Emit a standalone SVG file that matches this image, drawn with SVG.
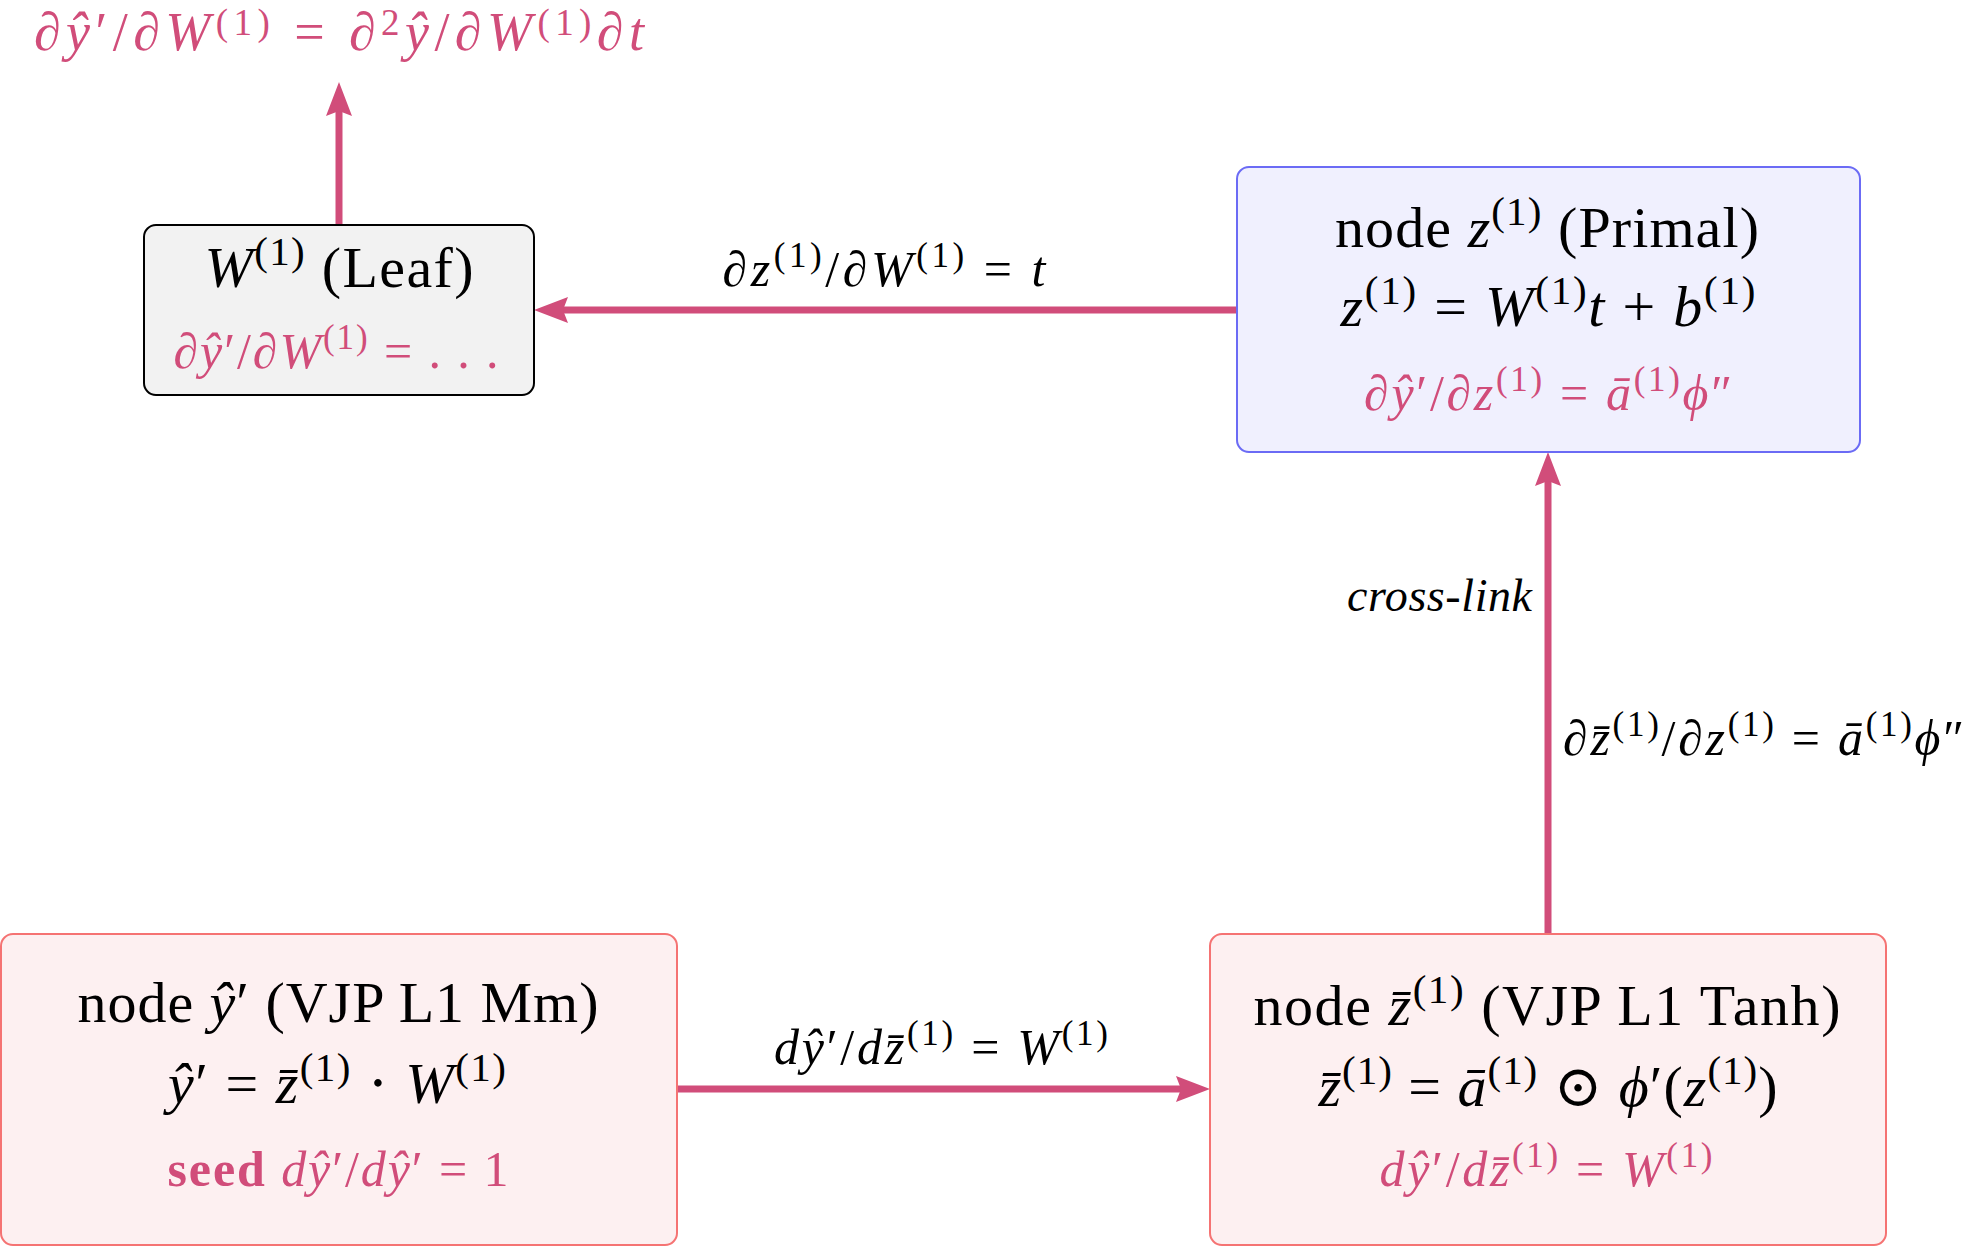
<svg xmlns="http://www.w3.org/2000/svg" width="1977" height="1247" viewBox="0 0 1977 1247">
<style>
text { font-family: "Liberation Serif", "DejaVu Serif", serif; fill: #000; }
.i { font-style: italic; }
.pk { fill: #d14d7a; }
.lg { font-size: 58px; }
.md { font-size: 50px; }
.s58 { font-size: 41px; }
.s50 { font-size: 35px; }
.s54 { font-size: 37px; }
.b { font-weight: bold; }
.edge { stroke: #d14d7a; stroke-width: 7; fill: none; }
.leaf { fill: #f2f2f2; stroke: #000; stroke-width: 2; }
.primal { fill: #f0f0fe; stroke: #6b6bf5; stroke-width: 2; }
.vjp { fill: #fdf0f1; stroke: #f57373; stroke-width: 2; }
</style>
<defs>
<marker id="ah" markerUnits="userSpaceOnUse" viewBox="-20 -16 45 32" refX="0" refY="0" markerWidth="45" markerHeight="32" orient="auto" overflow="visible">
<path d="M20,0 L-14,-13 L-9,0 L-14,13 Z" fill="#d14d7a"/>
</marker>
</defs>

<g id="connectors">
<line class="edge" x1="339" y1="225" x2="339" y2="102" marker-end="url(#ah)"/>
<line class="edge" x1="1237" y1="310" x2="554" y2="310" marker-end="url(#ah)"/>
<line class="edge" x1="1548" y1="934" x2="1548" y2="472" marker-end="url(#ah)"/>
<line class="edge" x1="677" y1="1089" x2="1190" y2="1089" marker-end="url(#ah)"/>
<text class="md" x="884" y="286" text-anchor="middle" textLength="323"><tspan class="i">∂z</tspan><tspan class="s50" dy="-19">(1)</tspan><tspan dy="19">/</tspan><tspan class="i">∂W</tspan><tspan class="s50" dy="-19">(1)</tspan><tspan dy="19"> = </tspan><tspan class="i">t</tspan></text>
<text class="i" font-size="46" x="1532" y="611" text-anchor="end" textLength="185">cross-link</text>
<text class="md" x="1563" y="755" textLength="401"><tspan class="i">∂z&#x304;</tspan><tspan class="s50" dy="-19">(1)</tspan><tspan dy="19">/</tspan><tspan class="i">∂z</tspan><tspan class="s50" dy="-19">(1)</tspan><tspan dy="19"> = </tspan><tspan class="i">ā</tspan><tspan class="s50" dy="-19">(1)</tspan><tspan dy="19" class="i">ϕ</tspan><tspan>″</tspan></text>
<text class="md" x="941" y="1064" text-anchor="middle" textLength="334"><tspan class="i">dŷ</tspan><tspan>′/</tspan><tspan class="i">dz&#x304;</tspan><tspan class="s50" dy="-19">(1)</tspan><tspan dy="19"> = </tspan><tspan class="i">W</tspan><tspan class="s50" dy="-19">(1)</tspan></text>
<text class="pk" font-size="54" x="339" y="50" text-anchor="middle" textLength="610"><tspan class="i">∂ŷ</tspan><tspan>′/</tspan><tspan class="i">∂W</tspan><tspan class="s54" dy="-15">(1)</tspan><tspan dy="15"> = </tspan><tspan class="i">∂</tspan><tspan class="s54" dy="-15">2</tspan><tspan dy="15" class="i">ŷ</tspan><tspan>/</tspan><tspan class="i">∂W</tspan><tspan class="s54" dy="-15">(1)</tspan><tspan dy="15" class="i">∂t</tspan></text>
</g>

<g id="node-leaf">
<rect class="leaf" x="144" y="225" width="390" height="170" rx="12"/>
<text class="lg" x="339" y="287" text-anchor="middle" textLength="269"><tspan class="i">W</tspan><tspan class="s58" dy="-22">(1)</tspan><tspan dy="22"> (Leaf)</tspan></text>
<text class="md pk" x="336" y="368" text-anchor="middle" textLength="325"><tspan class="i">∂ŷ</tspan><tspan>′/</tspan><tspan class="i">∂W</tspan><tspan class="s50" dy="-19">(1)</tspan><tspan dy="19"> = . . .</tspan></text>
</g>

<g id="node-primal">
<rect class="primal" x="1237" y="167" width="623" height="285" rx="12"/>
<text class="lg" x="1547" y="247" text-anchor="middle" textLength="424"><tspan>node </tspan><tspan class="i">z</tspan><tspan class="s58" dy="-22">(1)</tspan><tspan dy="22"> (Primal)</tspan></text>
<text class="lg" x="1548" y="326" text-anchor="middle" textLength="415"><tspan class="i">z</tspan><tspan class="s58" dy="-22">(1)</tspan><tspan dy="22"> = </tspan><tspan class="i">W</tspan><tspan class="s58" dy="-22">(1)</tspan><tspan dy="22" class="i">t</tspan><tspan> + </tspan><tspan class="i">b</tspan><tspan class="s58" dy="-22">(1)</tspan></text>
<text class="md pk" x="1548" y="410" text-anchor="middle" textLength="368"><tspan class="i">∂ŷ</tspan><tspan>′/</tspan><tspan class="i">∂z</tspan><tspan class="s50" dy="-19">(1)</tspan><tspan dy="19"> = </tspan><tspan class="i">ā</tspan><tspan class="s50" dy="-19">(1)</tspan><tspan dy="19" class="i">ϕ</tspan><tspan>″</tspan></text>
</g>

<g id="node-mm">
<rect class="vjp" x="1" y="934" width="676" height="311" rx="12"/>
<text class="lg" x="338" y="1022" text-anchor="middle" textLength="521"><tspan>node </tspan><tspan class="i">ŷ</tspan><tspan>′ (VJP L1 Mm)</tspan></text>
<text class="lg" x="337" y="1103" text-anchor="middle" textLength="338"><tspan class="i">ŷ</tspan><tspan>′ = </tspan><tspan class="i">z&#x304;</tspan><tspan class="s58" dy="-22">(1)</tspan><tspan dy="22"> ⋅ </tspan><tspan class="i">W</tspan><tspan class="s58" dy="-22">(1)</tspan></text>
<text class="md pk" x="338" y="1186" text-anchor="middle" textLength="341"><tspan class="b">seed </tspan><tspan class="i">dŷ</tspan><tspan>′/</tspan><tspan class="i">dŷ</tspan><tspan>′ = 1</tspan></text>
</g>

<g id="node-tanh">
<rect class="vjp" x="1210" y="934" width="676" height="311" rx="12"/>
<text class="lg" x="1547" y="1025" text-anchor="middle" textLength="587"><tspan>node </tspan><tspan class="i">z&#x304;</tspan><tspan class="s58" dy="-22">(1)</tspan><tspan dy="22"> (VJP L1 Tanh)</tspan></text>
<text class="lg" x="1548" y="1106" text-anchor="middle" textLength="459"><tspan class="i">z&#x304;</tspan><tspan class="s58" dy="-22">(1)</tspan><tspan dy="22"> = </tspan><tspan class="i">ā</tspan><tspan class="s58" dy="-22">(1)</tspan><tspan dy="22"> ⊙ </tspan><tspan class="i">ϕ</tspan><tspan>′(</tspan><tspan class="i">z</tspan><tspan class="s58" dy="-22">(1)</tspan><tspan dy="22">)</tspan></text>
<text class="md pk" x="1546" y="1186" text-anchor="middle" textLength="333"><tspan class="i">dŷ</tspan><tspan>′/</tspan><tspan class="i">dz&#x304;</tspan><tspan class="s50" dy="-19">(1)</tspan><tspan dy="19"> = </tspan><tspan class="i">W</tspan><tspan class="s50" dy="-19">(1)</tspan></text>
</g>
</svg>
